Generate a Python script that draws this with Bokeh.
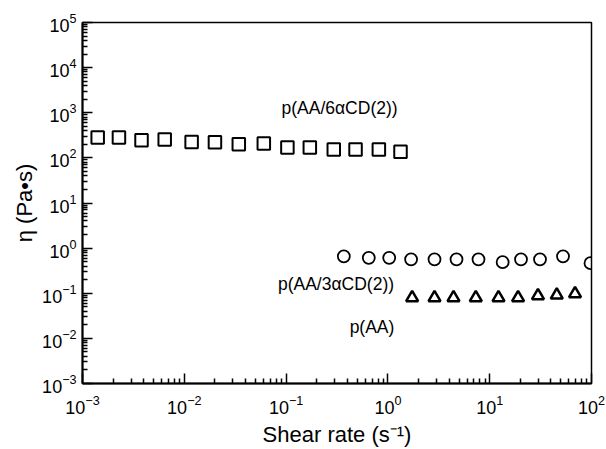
from bokeh.plotting import figure
from bokeh.models import Range1d, FixedTicker, ColumnDataSource
from bokeh.core.properties import value
from bokeh.embed import file_html
from bokeh.resources import INLINE

# ---- data ----
sq_rate = [1.41e-3, 2.28e-3, 3.8e-3, 6.42e-3, 0.0118, 0.020, 0.0343, 0.0604,
           0.103, 0.171, 0.294, 0.481, 0.815, 1.33]
sq_eta = [283, 283, 247, 256, 226, 223, 201, 208, 170, 170, 154, 154, 154, 136]

ci_rate = [0.369, 0.649, 1.03, 1.69, 2.87, 4.72, 7.76, 13.4, 20.3, 31.2, 52.5, 97.8]
ci_eta = [0.657, 0.609, 0.609, 0.564, 0.564, 0.564, 0.564, 0.489, 0.564, 0.564, 0.657, 0.465]

tr_rate = [1.73, 2.87, 4.41, 7.30, 12.2, 19.0, 29.8, 45.6, 68.9]
tr_eta = [0.0796, 0.0796, 0.0796, 0.0796, 0.0796, 0.0796, 0.0881, 0.0912, 0.0975]

x_ticks = [1e-3, 1e-2, 1e-1, 1e0, 1e1, 1e2]
y_ticks = [1e-3, 1e-2, 1e-1, 1e0, 1e1, 1e2, 1e3, 1e4, 1e5]

labels = ["p(AA/6\u03b1CD(2))", "p(AA/3\u03b1CD(2))", "p(AA)"]
label_x = [0.335, 0.309, 0.698]
label_y = [1256, 0.162, 0.0177]

FONT = "Liberation Sans"

def minors(majors):
    out = []
    for m in majors[:-1]:
        for k in range(2, 10):
            out.append(m * k)
    return out

p = figure(width=606, height=449, x_axis_type="log", y_axis_type="log",
           x_range=Range1d(1e-3, 1e2), y_range=Range1d(1e-3, 1e5),
           output_backend="svg", toolbar_location=None,
           min_border_left=82, min_border_right=15, min_border_top=22,
           min_border_bottom=65)
p.background_fill_color = "white"
p.border_fill_color = "white"
p.outline_line_color = "black"
p.outline_line_width = 1.5
p.xgrid.visible = False
p.ygrid.visible = False

p.xaxis.ticker = FixedTicker(ticks=x_ticks, minor_ticks=minors(x_ticks))
p.yaxis.ticker = FixedTicker(ticks=y_ticks, minor_ticks=minors(y_ticks))

for ax in (p.xaxis, p.yaxis):
    ax.axis_line_color = "black"
    ax.axis_line_width = 2
    ax.major_tick_line_color = "black"
    ax.major_tick_line_width = 1.5
    ax.minor_tick_line_color = "black"
    ax.minor_tick_line_width = 1.5
    ax.major_tick_in = 10
    ax.major_tick_out = 0
    ax.minor_tick_in = 5
    ax.minor_tick_out = 0
    ax.major_label_text_font = FONT
    ax.major_label_text_font_size = "18px"
    ax.major_label_text_color = "black"
    ax.axis_label_text_font = FONT
    ax.axis_label_text_font_size = "22px"
    ax.axis_label_text_font_style = "normal"
    ax.axis_label_text_color = "black"

p.xaxis.axis_label = "Shear rate (s\u207b\u00b9)"
p.yaxis.axis_label = "\u03b7 (Pa\u2022s)"
p.xaxis.major_label_standoff = 11
p.yaxis.major_label_standoff = 6
p.xaxis.axis_label_standoff = 5
p.yaxis.axis_label_standoff = 2

p.scatter(sq_rate, sq_eta, marker="square", size=12.5, fill_color=None,
          line_color="black", line_width=2)
p.scatter(ci_rate, ci_eta, marker="circle", size=12, fill_color=None,
          line_color="black", line_width=1.8)
p.scatter(tr_rate, tr_eta, marker="triangle", size=12, fill_color=None,
          line_color="black", line_width=2.5)

src = ColumnDataSource(dict(x=label_x, y=label_y, t=labels))
p.text(x="x", y="y", text="t", source=src, text_font=value(FONT),
       text_font_size="17.5px", text_align="center", text_baseline="middle",
       text_color="black")

open("out.html", "w").write(file_html(p, INLINE))
